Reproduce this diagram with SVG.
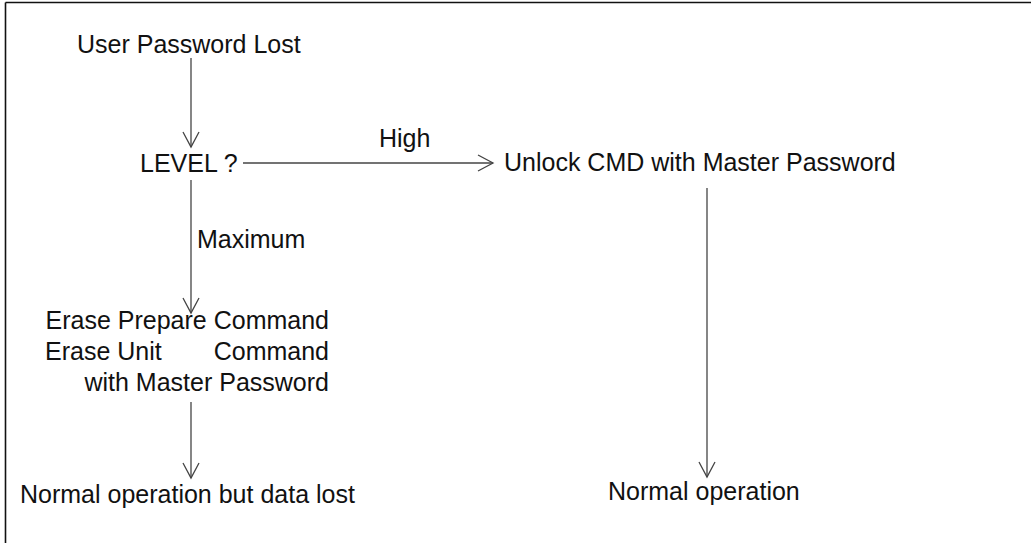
<svg xmlns="http://www.w3.org/2000/svg" width="1031" height="543" viewBox="0 0 1031 543">
<style>
text{font-family:"Liberation Sans",Arial,sans-serif;font-size:25px;fill:#111}
.c{fill:none;stroke:#444;stroke-width:1.3}
.f{fill:none;stroke:#111;stroke-width:1.6}
</style>
<defs>
<marker id="a" markerUnits="userSpaceOnUse" markerWidth="20" markerHeight="20" viewBox="-17 -10 20 20" refX="0" refY="0" orient="auto" overflow="visible">
<path d="M-15,-8 L0,0 L-15,8" fill="none" stroke="#444" stroke-width="1.3"/>
</marker>
</defs>
<rect width="1031" height="543" fill="#fff"/>
<g id="frame">
<line class="f" x1="5.5" y1="2.5" x2="1031" y2="2.5"/>
<line class="f" x1="5.5" y1="2.5" x2="5.5" y2="543"/>
</g>
<g id="n-lost"><text x="77" y="53">User Password Lost</text></g>
<g id="n-level"><text x="140" y="172">LEVEL ?</text></g>
<g id="n-unlock"><text x="504" y="171">Unlock CMD with Master Password</text></g>
<g id="n-erase">
<text x="329" y="329" text-anchor="end">Erase Prepare Command</text>
<text><tspan x="45" y="360">Erase Unit</tspan><tspan x="329" y="360" text-anchor="end">Command</tspan></text>
<text x="329" y="391" text-anchor="end">with Master Password</text>
</g>
<g id="n-datalost"><text x="20" y="503">Normal operation but data lost</text></g>
<g id="n-normal"><text x="608" y="500">Normal operation</text></g>
<g id="connectors">
<line class="c" x1="191" y1="58" x2="191" y2="147" marker-end="url(#a)"/>
<line class="c" x1="243" y1="163" x2="493" y2="163" marker-end="url(#a)"/>
<text x="379" y="147">High</text>
<line class="c" x1="191" y1="180" x2="191" y2="313" marker-end="url(#a)"/>
<text x="197" y="248">Maximum</text>
<line class="c" x1="191" y1="402" x2="191" y2="478" marker-end="url(#a)"/>
<line class="c" x1="707" y1="188" x2="707" y2="477" marker-end="url(#a)"/>
</g>
</svg>
